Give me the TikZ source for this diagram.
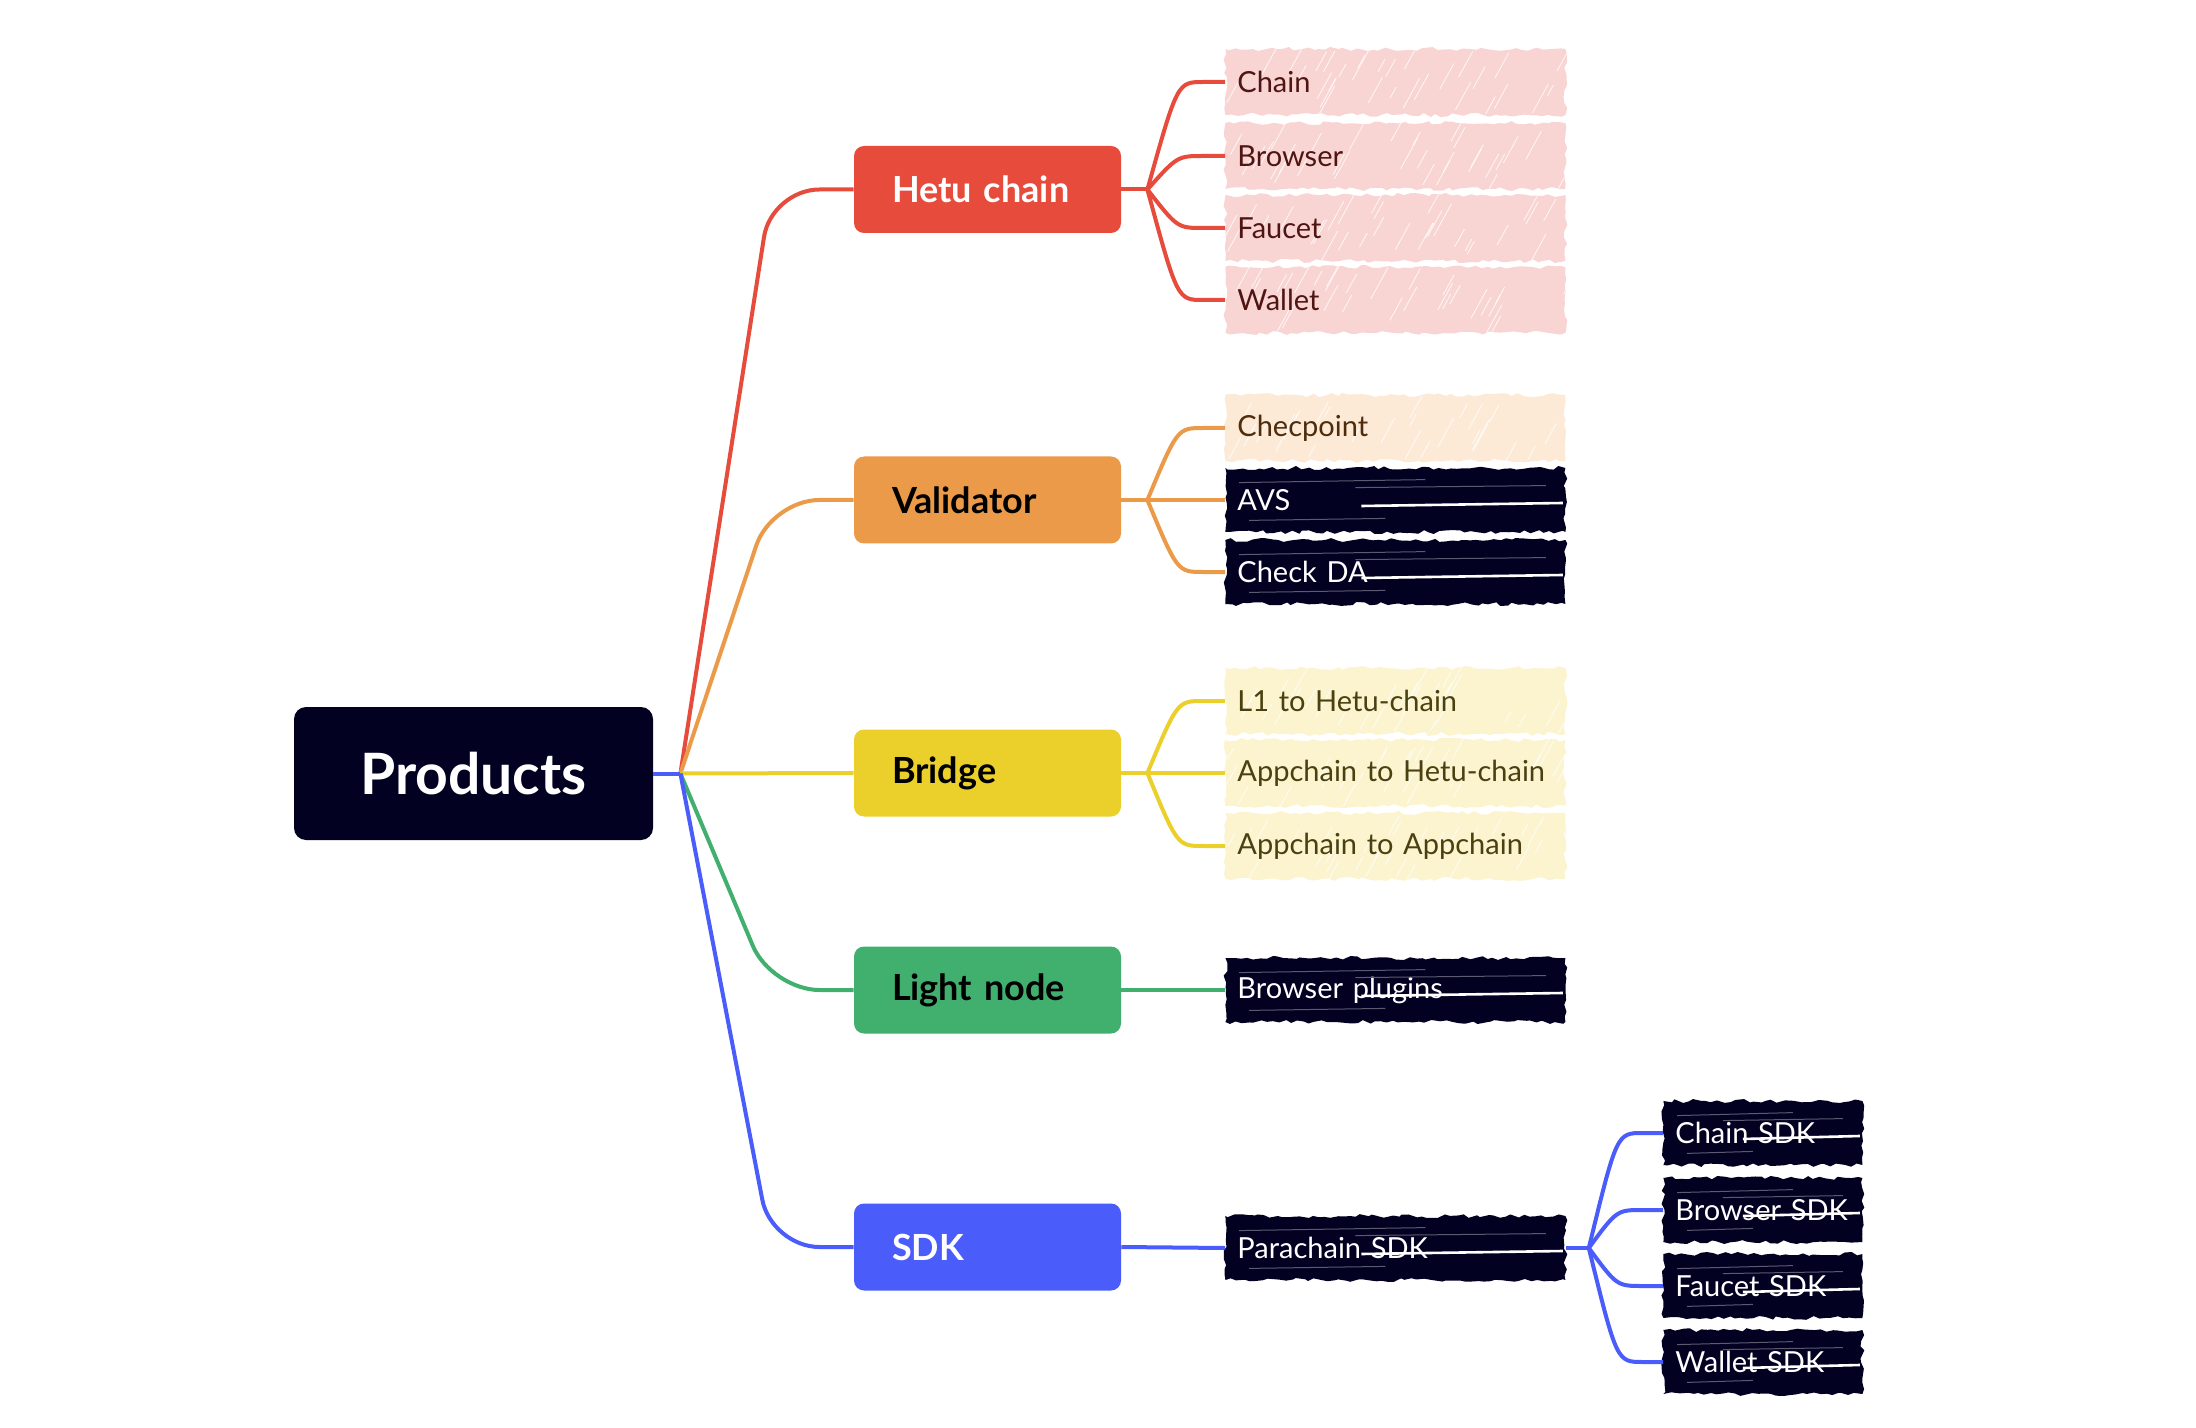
\documentclass[tikz,border=0pt]{standalone}
\usepackage{fontspec}
\setmainfont{Lato}
\usetikzlibrary{decorations.pathmorphing,calc}
\definecolor{navy}{HTML}{020122}
\definecolor{cred}{HTML}{E64B3B}
\definecolor{corange}{HTML}{EA9A48}
\definecolor{cyellow}{HTML}{EBCF2B}
\definecolor{cgreen}{HTML}{41B06E}
\definecolor{cblue}{HTML}{4A5DFB}
\definecolor{pinkfill}{HTML}{F8D4D2}
\definecolor{orangefill}{HTML}{FCEAD7}
\definecolor{yellowfill}{HTML}{FBF4CF}
\definecolor{redtext}{HTML}{4E1512}
\definecolor{orangetext}{HTML}{4E2C0C}
\definecolor{yellowtext}{HTML}{4A4010}
\newcommand\dkstreak[1]{%
  \draw[white, line width=1.3pt] ($(#1.west)!0.4!(#1.east)+(0,6)$) -- ($(#1.east)+(-3,3)$);
  \draw[white!35!navy, line width=0.5pt] ($(#1.north west)+(14,15)$) -- ($(#1.north)+(30,12)$);
  \draw[white!35!navy, line width=0.5pt] ($(#1.north)+(-40,20)$) -- ($(#1.north east)+(-20,18)$);
  \draw[white!35!navy, line width=0.5pt] ($(#1.south west)+(24,-12)$) -- ($(#1.south)+(-10,-14)$);
}
\begin{document}
\pgfmathsetseed{7}
\begin{tikzpicture}[x=0.5pt,y=-0.5pt,
  mainbox/.style={rounded corners=5pt, minimum height=43.5pt, minimum width=133.5pt,
    text width=95.5pt, inner xsep=19pt, align=left,
    font=\fontsize{18}{20}\selectfont\bfseries},
  leaf/.style={anchor=west, minimum width=170pt, minimum height=33pt, text width=158pt,
    inner xsep=6pt, align=left, font=\fontsize{14.5}{16}\selectfont,
    decorate, decoration={random steps, segment length=3pt, amplitude=1pt}},
  hatched/.style={path picture={
    \foreach \i in {1,...,30}{
      \pgfmathsetmacro\hx{rnd}
      \pgfmathsetmacro\hy{rnd*50}
      \pgfmathsetmacro\hl{10+rnd*22}
      \draw[white, line width=0.45pt, opacity=0.75]
        ($(path picture bounding box.south west)!\hx!(path picture bounding box.south east)+(0,-\hy)$)
        -- ++(0.55*\hl,-\hl);
    }}},
  pinkleaf/.style={leaf, hatched, fill=pinkfill, text=redtext},
  orangeleaf/.style={leaf, hatched, fill=orangefill, text=orangetext},
  yellowleaf/.style={leaf, hatched, fill=yellowfill, text=yellowtext},
  dleaf/.style={leaf, fill=navy, text=white, minimum height=32pt},
  sdkleaf/.style={dleaf, minimum width=99.5pt, text width=87.5pt},
  conn/.style={line width=2pt, rounded corners=24pt},
  subconn/.style={line width=2pt}
]
\useasboundingbox (0,0) rectangle (2196,1428);

% root
\node[fill=navy, text=white, rounded corners=6pt, minimum width=179.5pt, minimum height=66.5pt,
  font=\fontsize{28.5}{32}\selectfont\bfseries] (products) at (473.5,773.5) {Products};

% main branches
\node[mainbox, fill=cred, text=white] (hetu) at (987.5,189.5) {Hetu chain};
\node[mainbox, fill=corange, text=black] (validator) at (987.5,500) {Validator};
\node[mainbox, fill=cyellow, text=black] (bridge) at (987.5,773) {Bridge};
\node[mainbox, fill=cgreen, text=black] (light) at (987.5,990) {Light node};
\node[mainbox, fill=cblue, text=white] (sdk) at (987.5,1247) {SDK};

% Hetu chain leaves
\node[pinkleaf] (chain) at (1225,82) {Chain};
\node[pinkleaf] (browser) at (1225,156) {Browser};
\node[pinkleaf] (faucet) at (1225,228) {Faucet};
\node[pinkleaf] (wallet) at (1225,300) {Wallet};

% Validator leaves
\node[orangeleaf] (checpoint) at (1225,428) {Checpoint};
\node[dleaf] (avs) at (1225,500) {AVS};
\node[dleaf] (checkda) at (1225,572) {Check DA};

% Bridge leaves
\node[yellowleaf] (l1) at (1225,701) {L1 to Hetu-chain};
\node[yellowleaf] (a2h) at (1225,773) {Appchain to Hetu-chain};
\node[yellowleaf] (a2a) at (1225,846) {Appchain to Appchain};

% Light node leaf
\node[dleaf] (plugins) at (1225,990) {Browser plugins};

% SDK leaves
\node[dleaf] (para) at (1225,1248) {Parachain SDK};
\node[sdkleaf] (chainsdk) at (1663,1133) {Chain SDK};
\node[sdkleaf] (browsersdk) at (1663,1210) {Browser SDK};
\node[sdkleaf] (faucetsdk) at (1663,1286) {Faucet SDK};
\node[sdkleaf] (walletsdk) at (1663,1362) {Wallet SDK};

\foreach \n in {avs,checkda,plugins,para,chainsdk,browsersdk,faucetsdk,walletsdk}{\dkstreak{\n}}

% hubs
\coordinate (hub) at ($(products.east)+(27,0)$);
\coordinate (cx) at ($(hub)+(91,0)$);
\coordinate (hh) at ($(hetu.east)+(26,0)$);
\coordinate (vh) at ($(validator.east)+(26,0)$);
\coordinate (bh) at ($(bridge.east)+(26,0)$);
\coordinate (ph) at ($(para.east)+(23,0)$);

% main connectors
\draw[conn, cred] (hub) -- (cx |- hetu.west) -- (hetu.west);
\draw[conn, corange] (hub) -- (cx |- validator.west) -- (validator.west);
\draw[conn, cyellow] (hub) -- (bridge.west);
\draw[conn, cgreen] (hub) -- (cx |- light.west) -- (light.west);
\draw[conn, cblue] (hub) -- (cx |- sdk.west) -- (sdk.west);
\draw[conn, cblue] (products.east) -- (hub);

% Hetu sub connectors
\draw[subconn, cred] (hetu.east) -- (hh);
\foreach \c in {chain,browser,faucet,wallet}{
  \draw[subconn, cred] let \p1=(hh), \p2=(\c.west) in
    (hh) .. controls (\x1+15pt,\y2) .. (\x1+28pt,\y2) -- (\c.west);
}
% Validator sub connectors
\draw[subconn, corange] (validator.east) -- (vh);
\foreach \c in {checpoint,avs,checkda}{
  \draw[subconn, corange] let \p1=(vh), \p2=(\c.west) in
    (vh) .. controls (\x1+15pt,\y2) .. (\x1+28pt,\y2) -- (\c.west);
}
% Bridge sub connectors
\draw[subconn, cyellow] (bridge.east) -- (bh);
\foreach \c in {l1,a2h,a2a}{
  \draw[subconn, cyellow] let \p1=(bh), \p2=(\c.west) in
    (bh) .. controls (\x1+15pt,\y2) .. (\x1+28pt,\y2) -- (\c.west);
}
% Light node connector
\draw[subconn, cgreen] (light.east) -- (plugins.west);
% SDK connectors
\draw[subconn, cblue] (sdk.east) -- (para.west);
\draw[subconn, cblue] (para.east) -- (ph);
\foreach \c in {chainsdk,browsersdk,faucetsdk,walletsdk}{
  \draw[subconn, cblue] let \p1=(ph), \p2=(\c.west) in
    (ph) .. controls (\x1+14pt,\y2) .. (\x1+27pt,\y2) -- (\c.west);
}
\end{tikzpicture}
\end{document}
